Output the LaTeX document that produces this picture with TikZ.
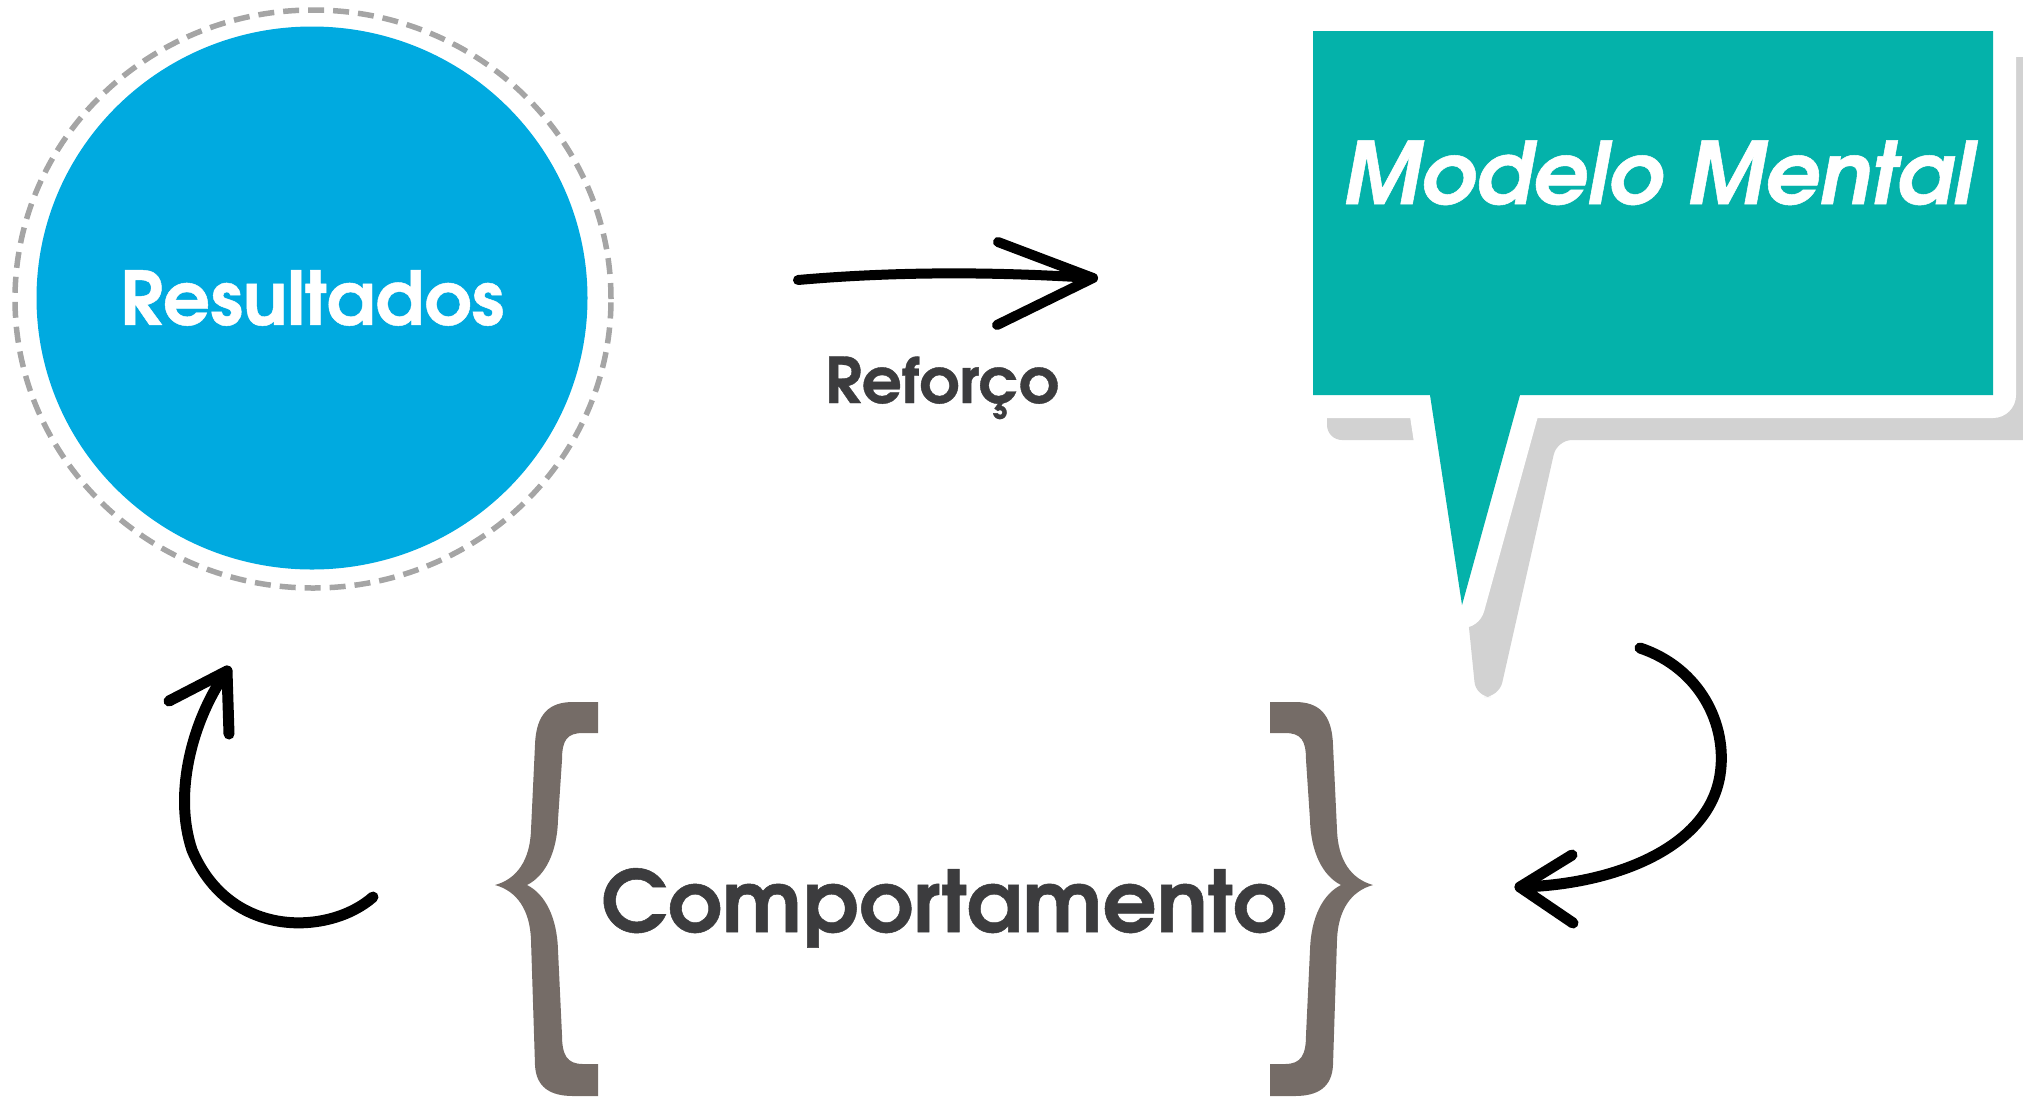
\documentclass[tikz,border=0pt]{standalone}
\usepackage{fontspec}
\setmainfont{texgyreadventor}[Extension=.otf, UprightFont=*-regular, BoldFont=*-bold, ItalicFont=*-italic, BoldItalicFont=*-bolditalic,
  BoldFeatures={FakeBold=0.6}, BoldItalicFeatures={FakeBold=0.6}]
\usetikzlibrary{shapes.geometric}

\definecolor{resblue}{RGB}{0,170,224}
\definecolor{bubbleteal}{RGB}{4,178,170}
\definecolor{bracegrey}{RGB}{117,108,103}
\definecolor{textgrey}{RGB}{60,60,62}
\definecolor{shadowgrey}{RGB}{210,210,210}
\definecolor{ringgrey}{RGB}{165,165,165}

\begin{document}
\begin{tikzpicture}[x=1pt, y=-1pt,
  hand/.style={line width=10pt, line cap=round, line join=round, black},
  curly/.pic={
    \fill[bracegrey] (103,-183) -- (78,-183)
      .. controls (55,-183) and (41,-172) .. (40,-140) -- (36,-55)
      .. controls (35,-25) and (22,-6) .. (0,0)
      .. controls (22,6) and (35,25) .. (36,55) -- (40,180)
      .. controls (41,202) and (55,211) .. (78,211) -- (103,211) -- (103,179) -- (88,179)
      .. controls (72,179) and (67,170) .. (67,150) -- (63,65)
      .. controls (62,32) and (50,9) .. (32,0)
      .. controls (50,-9) and (62,-32) .. (63,-65) -- (67,-125)
      .. controls (67,-145) and (72,-152) .. (88,-152) -- (103,-152) -- cycle;
  }]

\useasboundingbox (0,0) rectangle (2023,1096);

% blue circle with dashed ring
\node[ellipse, draw=ringgrey, line width=5.5pt, dash pattern=on 16pt off 9pt,
  minimum width=596pt, minimum height=578pt] (ring) at (313,299) {};
\node[ellipse, fill=resblue, text=white, inner sep=0pt,
  minimum width=551pt, minimum height=543pt,
  font=\bfseries\fontsize{74}{80}\selectfont] (res) at (312,298) {Resultados};

% speech bubble: shadow, white edge, teal body
\fill[shadowgrey, rounded corners=15pt] (1327,57) -- (2040,57) -- (2040,440) -- (1557,440)
  -- (1499,697) -- (1476,697) -- (1450,440) -- (1327,440) -- cycle;
\fill[bubbleteal, preaction={draw=white, line width=46pt, line join=round}]
  (1313,31) -- (1993,31) -- (1993,395) -- (1520,395) -- (1462,605) -- (1430,395) -- (1313,395) -- cycle;
\node[anchor=base, text=white, inner sep=0pt,
  font=\bfseries\itshape\fontsize{86}{92}\selectfont] (modelo) at (1658,204) {Modelo Mental};

% arrow with label
\coordinate (reftail) at (798,280);
\coordinate (reftip) at (1093,278);
\coordinate (refup) at (998,242);
\coordinate (refdown) at (997,325);
\draw[hand] (reftail) .. controls (900,271) and (1000,272) .. (reftip);
\draw[hand] (refup) -- (reftip) -- (refdown);
\node[anchor=base, text=textgrey, inner sep=0pt,
  font=\bfseries\fontsize{63}{68}\selectfont] (reforco) at (942,403) {Reforço};

% braces round the behaviour
\pic at (495,885) {curly};
\pic[xscale=-1] at (1373,885) {curly};
\node[anchor=base, text=textgrey, inner sep=0pt,
  font=\bfseries\fontsize{85}{90}\selectfont] (comp) at (944,932) {Comportamento};

% curved arrows
\coordinate (lefttail) at (373,897);
\coordinate (lefttip) at (227,671);
\coordinate (leftbarb) at (169,701);
\coordinate (leftbarbb) at (229,734);
\draw[hand, line width=11pt] (lefttail) .. controls (330,935) and (230,940) .. (192,850)
  .. controls (172,790) and (195,715) .. (lefttip);
\draw[hand, line width=11pt] (leftbarb) -- (lefttip) -- (leftbarbb);

\coordinate (righttail) at (1640,648);
\coordinate (righttip) at (1520,887);
\coordinate (rightbarb) at (1572,855);
\coordinate (rightbarbb) at (1573,923);
\draw[hand, line width=11pt] (righttail) .. controls (1700,668) and (1728,725) .. (1720,775)
  .. controls (1708,850) and (1610,885) .. (righttip);
\draw[hand, line width=11pt] (rightbarb) -- (righttip) -- (rightbarbb);

\end{tikzpicture}
\end{document}
